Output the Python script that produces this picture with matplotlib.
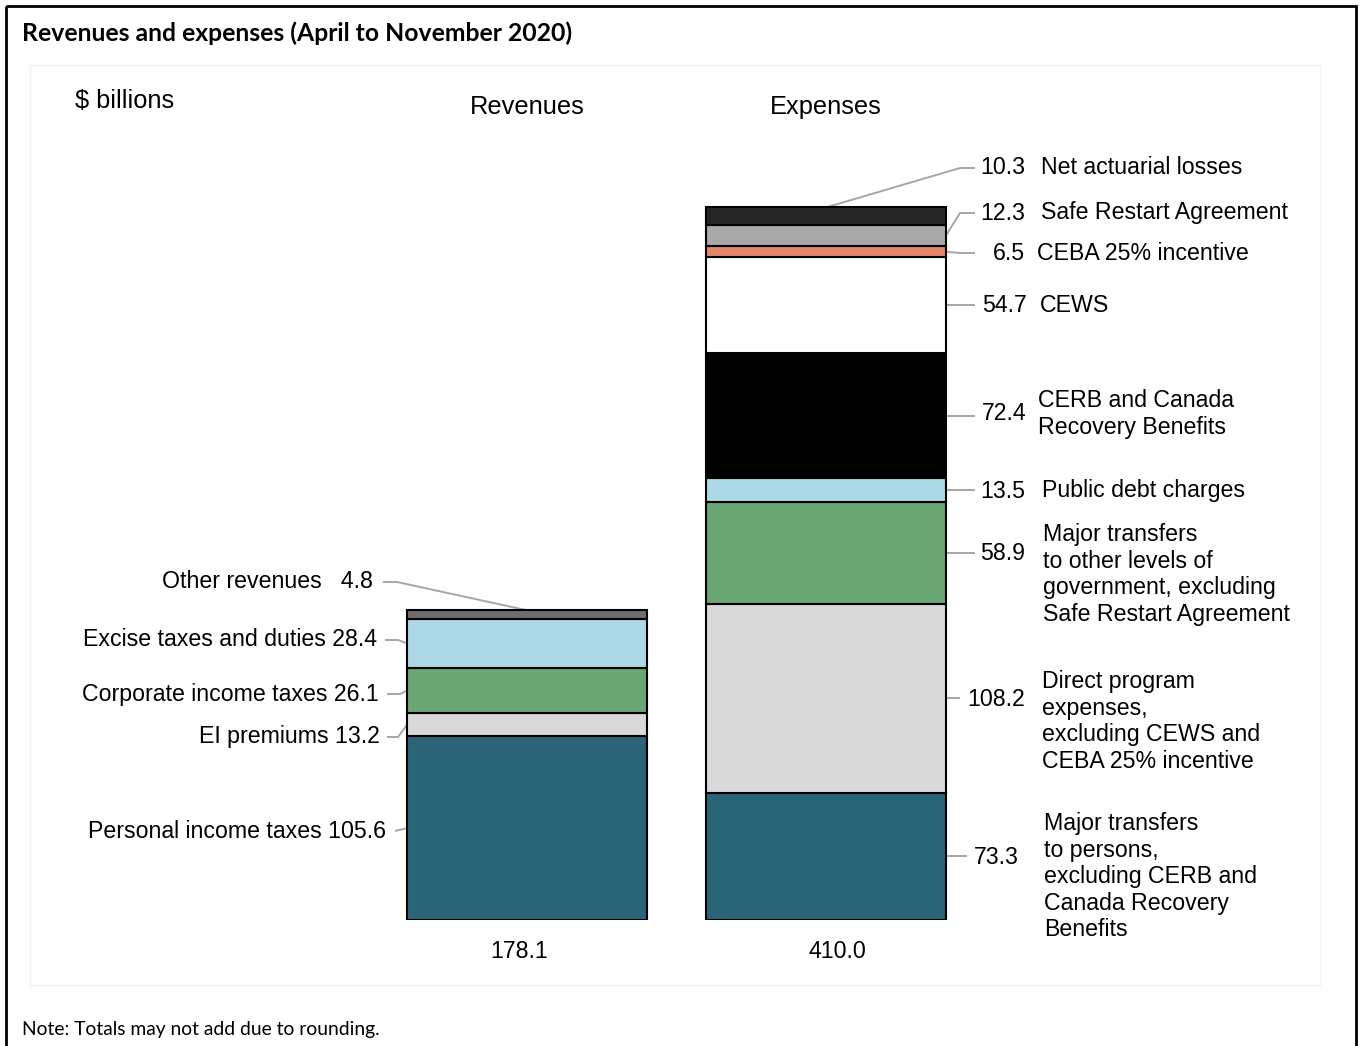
import matplotlib
matplotlib.use("Agg")
import matplotlib.pyplot as plt
from matplotlib.patches import Rectangle

# ---------------- data ----------------
rev_labels = ["Personal income taxes", "EI premiums", "Corporate income taxes",
              "Excise taxes and duties", "Other revenues"]
rev_values = [105.6, 13.2, 26.1, 28.4, 4.8]
rev_total = 178.1

exp_labels = ["Major transfers\nto persons,\nexcluding CERB and\nCanada Recovery\nBenefits",
              "Direct program\nexpenses,\nexcluding CEWS and\nCEBA 25% incentive",
              "Major transfers\nto other levels of\ngovernment, excluding\nSafe Restart Agreement",
              "Public debt charges",
              "CERB and Canada\nRecovery Benefits",
              "CEWS",
              "CEBA 25% incentive",
              "Safe Restart Agreement",
              "Net actuarial losses"]
exp_values = [73.3, 108.2, 58.9, 13.5, 72.4, 54.7, 6.5, 12.3, 10.3]
exp_total = 410.0

rev_colors = ["#2a6478", "#d9d9d9", "#6aa574", "#add8e6", "#6f6c6c"]
exp_colors = ["#2a6478", "#d9d9d9", "#6aa574", "#add8e6", "#000000",
              "#ffffff", "#e3866a", "#aaa8a8", "#262626"]

FONT = "Liberation Sans"
FS = 16.7
FSH = 18.3

W, H = 1360, 1046
fig = plt.figure(figsize=(W / 100, H / 100), dpi=100)

# overlay in pixel coordinates
ov = fig.add_axes([0, 0, 1, 1])
ov.set_xlim(0, W)
ov.set_ylim(H, 0)
ov.axis("off")

ov.add_patch(Rectangle((6, 6), 1350, 1050, fill=False, ec="black", lw=2))
ov.add_patch(Rectangle((30, 65), 1290, 920, fill=False, ec="#f2f2f2", lw=1))
ov.text(22, 33, "Revenues and expenses (April to November 2020)", fontsize=17.8,
        fontweight="bold", family="Lato", va="center", ha="left")
ov.text(22, 1029, "Note: Totals may not add due to rounding.", fontsize=13.85,
        family="Lato", va="center", ha="left")
ov.text(75, 101, "$ billions", fontsize=FSH, family=FONT, va="center", ha="left")

# bar axes: y=0 at pixel 920, 1.739 px per unit
PXU = 1.739
YB = 920
ax = fig.add_axes([0, (H - YB) / H, 1, 450 * PXU / H])
ax.set_ylim(0, 450)
ax.set_xlim(-527 / 299, (W - 527) / 299)
ax.axis("off")
ax.patch.set_alpha(0)


def X(px):
    return (px - 527) / 299


def Y(py):
    return (YB - py) / PXU


bw = 240 / 299
positions = [0, 1]

# bars
bottom = 0
rev_mids = []
for v, c in zip(rev_values, rev_colors):
    ax.bar(positions[0], v, bottom=bottom, width=bw, color=c, edgecolor="black", lw=1.5, zorder=3)
    rev_mids.append(bottom + v / 2)
    bottom += v
rev_top = bottom

bottom = 0
exp_mids = []
for v, c in zip(exp_values, exp_colors):
    ax.bar(positions[1], v, bottom=bottom, width=bw, color=c, edgecolor="black", lw=1.5, zorder=3)
    exp_mids.append(bottom + v / 2)
    bottom += v
exp_top = bottom

LC = "#a6a6a6"
LW = 1.4

# headers and totals
ax.text(X(527), Y(107), "Revenues", fontsize=FSH, family=FONT, ha="center", va="center")
ax.text(X(826), Y(107), "Expenses", fontsize=FSH, family=FONT, ha="center", va="center")
ax.text(X(519), Y(951), f"{rev_total:.1f}", fontsize=FS, family=FONT, ha="center", va="center")
ax.text(X(837), Y(951), f"{exp_total:.1f}", fontsize=FS, family=FONT, ha="center", va="center")

# revenue labels (layout in pixels)
rev_label_y = [831, 737, 694, 640, 582]
rev_text_x = [386, 380, 379, 377, 373]
rev_elbow_x = [395, 398, 400, 398, 397]
rev_line_start = [395, 387, 387, 385, 383]
left_edge = positions[0] - bw / 2
for i, (lab, v) in enumerate(zip(rev_labels, rev_values)):
    sep = "   " if i == 4 else " "
    ax.text(X(rev_text_x[i]), Y(rev_label_y[i]), f"{lab}{sep}{v}", fontsize=FS, family=FONT,
            ha="right", va="center")
    if i == 4:
        pts = [(X(rev_line_start[i]), Y(rev_label_y[i])), (X(rev_elbow_x[i]), Y(rev_label_y[i])),
               (positions[0], rev_top)]
    else:
        pts = [(X(rev_line_start[i]), Y(rev_label_y[i])), (X(rev_elbow_x[i]), Y(rev_label_y[i])),
               (left_edge, rev_mids[i])]
    ax.plot([p[0] for p in pts], [p[1] for p in pts], color=LC, lw=LW, zorder=2,
            solid_capstyle="butt")

# expense labels
exp_label_y = [857, 699, 554, 491, 413, 305, 254, 213, 168]
exp_val_x = [1019, 1025, 1025, 1025, 1027, 1027, 1025, 1025, 1025]
exp_txt_x = [1044, 1042, 1043, 1042, 1038, 1040, 1037, 1041, 1041]
exp_txt_y = [822, 680, 533, 491, 399, 305, 254, 213, 168]
exp_line_end = [967, 960, 975, 975, 975, 975, 975, 975, 975]
right_edge = positions[1] + bw / 2
for i, (lab, v) in enumerate(zip(exp_labels, exp_values)):
    ax.text(X(exp_val_x[i]), Y(exp_label_y[i]), f"{v}", fontsize=FS, family=FONT,
            ha="right", va="center")
    nlines = lab.count("\n") + 1
    if nlines == 1:
        ax.text(X(exp_txt_x[i]), Y(exp_txt_y[i]), lab, fontsize=FS, family=FONT,
                ha="left", va="center")
    else:
        ax.text(X(exp_txt_x[i]), Y(exp_txt_y[i] - 10), lab, fontsize=FS, family=FONT,
                ha="left", va="top", linespacing=1.2)
    if i == 8:
        pts = [(X(828), exp_top), (X(960), Y(168)), (X(975), Y(168))]
    elif i == 7:
        pts = [(right_edge, exp_mids[i]), (X(960), Y(213)), (X(975), Y(213))]
    elif i == 6:
        pts = [(right_edge, exp_mids[i]), (X(960), Y(253)), (X(975), Y(253))]
    else:
        pts = [(right_edge, exp_mids[i]), (X(exp_line_end[i]), exp_mids[i])]
    ax.plot([p[0] for p in pts], [p[1] for p in pts], color=LC, lw=LW, zorder=2,
            solid_capstyle="butt")

fig.savefig("out.png", dpi=100)
